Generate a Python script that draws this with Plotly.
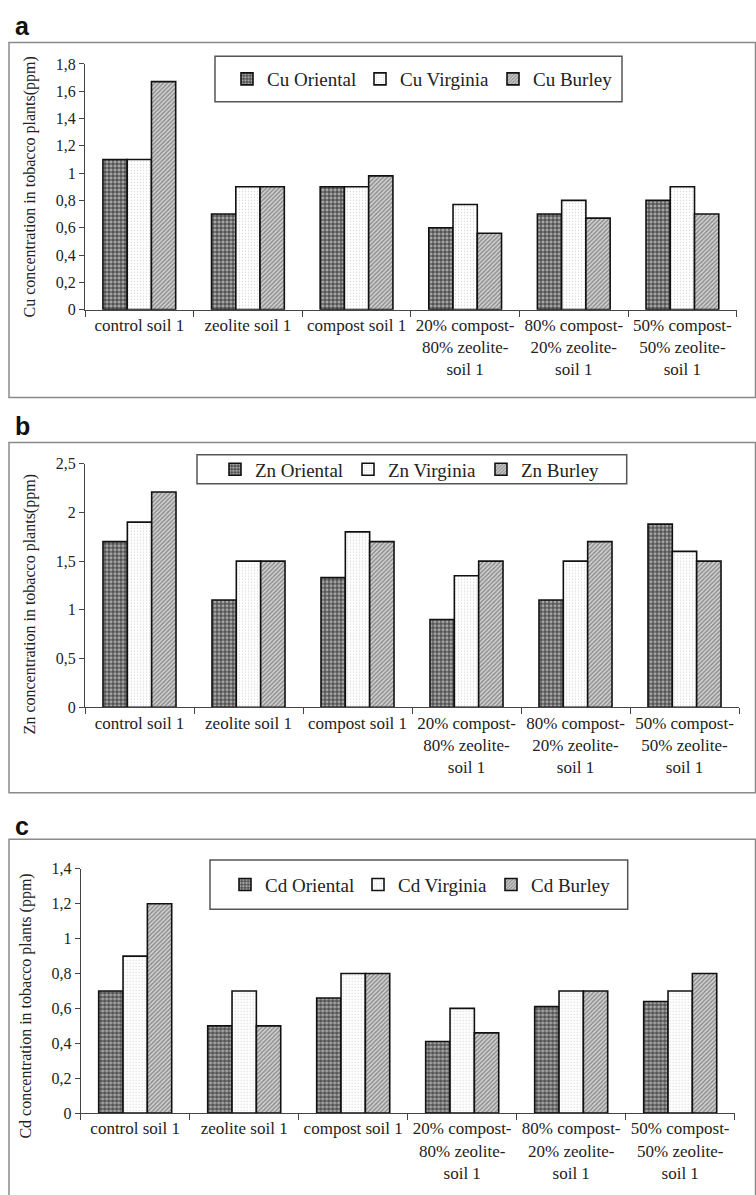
import plotly.graph_objects as go

W, H = 756, 1195

categories = [
    "control soil 1",
    "zeolite soil 1",
    "compost soil 1",
    "20% compost-<br>80% zeolite-<br>soil 1",
    "80% compost-<br>20% zeolite-<br>soil 1",
    "50% compost-<br>50% zeolite-<br>soil 1",
]

cu_oriental = [1.10, 0.70, 0.90, 0.60, 0.70, 0.80]
cu_virginia = [1.10, 0.90, 0.90, 0.77, 0.80, 0.90]
cu_burley = [1.67, 0.90, 0.98, 0.56, 0.67, 0.70]

zn_oriental = [1.70, 1.10, 1.33, 0.90, 1.10, 1.88]
zn_virginia = [1.90, 1.50, 1.80, 1.35, 1.50, 1.60]
zn_burley = [2.21, 1.50, 1.70, 1.50, 1.70, 1.50]

cd_oriental = [0.70, 0.50, 0.66, 0.41, 0.61, 0.64]
cd_virginia = [0.90, 0.70, 0.80, 0.60, 0.70, 0.70]
cd_burley = [1.20, 0.50, 0.80, 0.46, 0.70, 0.80]

cu_ticks = [0, 0.2, 0.4, 0.6, 0.8, 1.0, 1.2, 1.4, 1.6, 1.8]
cu_ticktext = ["0", "0,2", "0,4", "0,6", "0,8", "1", "1,2", "1,4", "1,6", "1,8"]
zn_ticks = [0, 0.5, 1.0, 1.5, 2.0, 2.5]
zn_ticktext = ["0", "0,5", "1", "1,5", "2", "2,5"]
cd_ticks = [0, 0.2, 0.4, 0.6, 0.8, 1.0, 1.2, 1.4]
cd_ticktext = ["0", "0,2", "0,4", "0,6", "0,8", "1", "1,2", "1,4"]

series_names = ["Oriental", "Virginia", "Burley"]

SERIF = "Liberation Serif"
SANS = "Liberation Sans"


def xd(px):
    return px / W


def yd(py):
    return 1 - py / H


patterns = {
    "Oriental": dict(shape=".", bgcolor="#505050", fgcolor="#ffffff", size=4, solidity=0.5),
    "Virginia": dict(shape=".", bgcolor="#ffffff", fgcolor="#b0b0b0", size=3, solidity=0.15),
    "Burley": dict(shape="/", bgcolor="#d4d4d4", fgcolor="#474747", size=3, solidity=0.5),
}

panels = [
    dict(el="Cu", data=[cu_oriental, cu_virginia, cu_burley], ticks=cu_ticks, ticktext=cu_ticktext,
         rng=[0, 1.8], x0=85, x1=736.7, ytop=56.7, ybot=306, legend="legend",
         title="Cu concentration in tobacco plants(ppm)", tx=30, ty=182,
         frame=(9, 35, 755.5, 395), lbox=(215, 49, 622, 95), lx=227, letter="a", ly=18),
    dict(el="Zn", data=[zn_oriental, zn_virginia, zn_burley], ticks=zn_ticks, ticktext=zn_ticktext,
         rng=[0, 2.5], x0=85, x1=739, ytop=462.3, ybot=709.3, legend="legend2",
         title="Zn concentration in tobacco plants(ppm)", tx=30, ty=605,
         frame=(9, 440.7, 755.5, 796), lbox=(197, 453.3, 626.7, 482.7), lx=215, letter="b", ly=424),
    dict(el="Cd", data=[cd_oriental, cd_virginia, cd_burley], ticks=cd_ticks, ticktext=cd_ticktext,
         rng=[0, 1.4], x0=80.7, x1=734.7, ytop=873.3, ybot=1121, legend="legend3",
         title="Cd concentration in tobacco plants (ppm)", tx=26, ty=1013,
         frame=(9, 843.3, 755.5, 1205), lbox=(210, 864.3, 627.7, 914.3), lx=225, letter="c", ly=830),
]

fig = go.Figure()
shapes = []
annotations = []
layout_extra = {}

for i, p in enumerate(panels):
    ax = "" if i == 0 else str(i + 1)
    for name, vals in zip(series_names, p["data"]):
        fig.add_trace(go.Bar(
            x=categories, y=vals, name=f"{p['el']} {name}",
            xaxis="x" + ax, yaxis="y" + ax, legend=p["legend"],
            marker=dict(color="#ffffff", line=dict(color="#111111", width=1.6),
                        pattern=patterns[name]),
        ))
    layout_extra["xaxis" + ax] = dict(
        domain=[xd(p["x0"]), xd(p["x1"])], anchor="y" + ax,
        type="category", tickson="boundaries", ticks="outside", ticklen=6,
        tickcolor="#444", showline=True, linecolor="#444", linewidth=1,
        showgrid=False, tickfont=dict(family=SERIF, size=17, color="#222"),
        fixedrange=True,
    )
    layout_extra["yaxis" + ax] = dict(
        domain=[yd(p["ybot"]), yd(p["ytop"])], anchor="x" + ax,
        range=p["rng"], tickvals=p["ticks"], ticktext=p["ticktext"],
        ticks="outside", ticklen=5, tickcolor="#444", showline=True,
        linecolor="#444", linewidth=1, showgrid=False, zeroline=False,
        tickfont=dict(family=SERIF, size=16, color="#222"),
    )
    lx0, ly0, lx1, ly1 = p["lbox"]
    layout_extra[p["legend"]] = dict(
        orientation="h", x=xd(p["lx"]), y=yd((ly0 + ly1) / 2), xanchor="left", yanchor="middle",
        bgcolor="rgba(0,0,0,0)", borderwidth=0, entrywidth=88, entrywidthmode="pixels",
        font=dict(family=SERIF, size=19, color="#222"), itemclick=False,
    )
    fx0, fy0, fx1, fy1 = p["frame"]
    shapes.append(dict(type="rect", xref="paper", yref="paper",
                       x0=xd(fx0), x1=xd(fx1), y0=yd(fy1), y1=yd(fy0),
                       line=dict(color="#8a8a8a", width=1.5), layer="below"))
    shapes.append(dict(type="rect", xref="paper", yref="paper",
                       x0=xd(lx0), x1=xd(lx1), y0=yd(ly1), y1=yd(ly0),
                       line=dict(color="#555555", width=1.5), layer="below"))
    annotations.append(dict(text=p["title"], textangle=-90, xref="paper", yref="paper",
                            x=xd(p["tx"]), y=yd(p["ty"]), xanchor="center", yanchor="middle",
                            showarrow=False, font=dict(family=SERIF, size=16, color="#222")))
    annotations.append(dict(text="<b>" + p["letter"] + "</b>", xref="paper", yref="paper",
                            x=xd(13), y=yd(p["ly"]), xanchor="left", yanchor="middle",
                            showarrow=False, font=dict(family=SANS, size=25, color="#111")))

fig.update_layout(
    width=W, height=H, margin=dict(l=0, r=0, t=0, b=0),
    paper_bgcolor="white", plot_bgcolor="white",
    barmode="group", bargap=0.33, bargroupgap=0,
    shapes=shapes, annotations=annotations, **layout_extra,
)

fig.write_html("out.html")
